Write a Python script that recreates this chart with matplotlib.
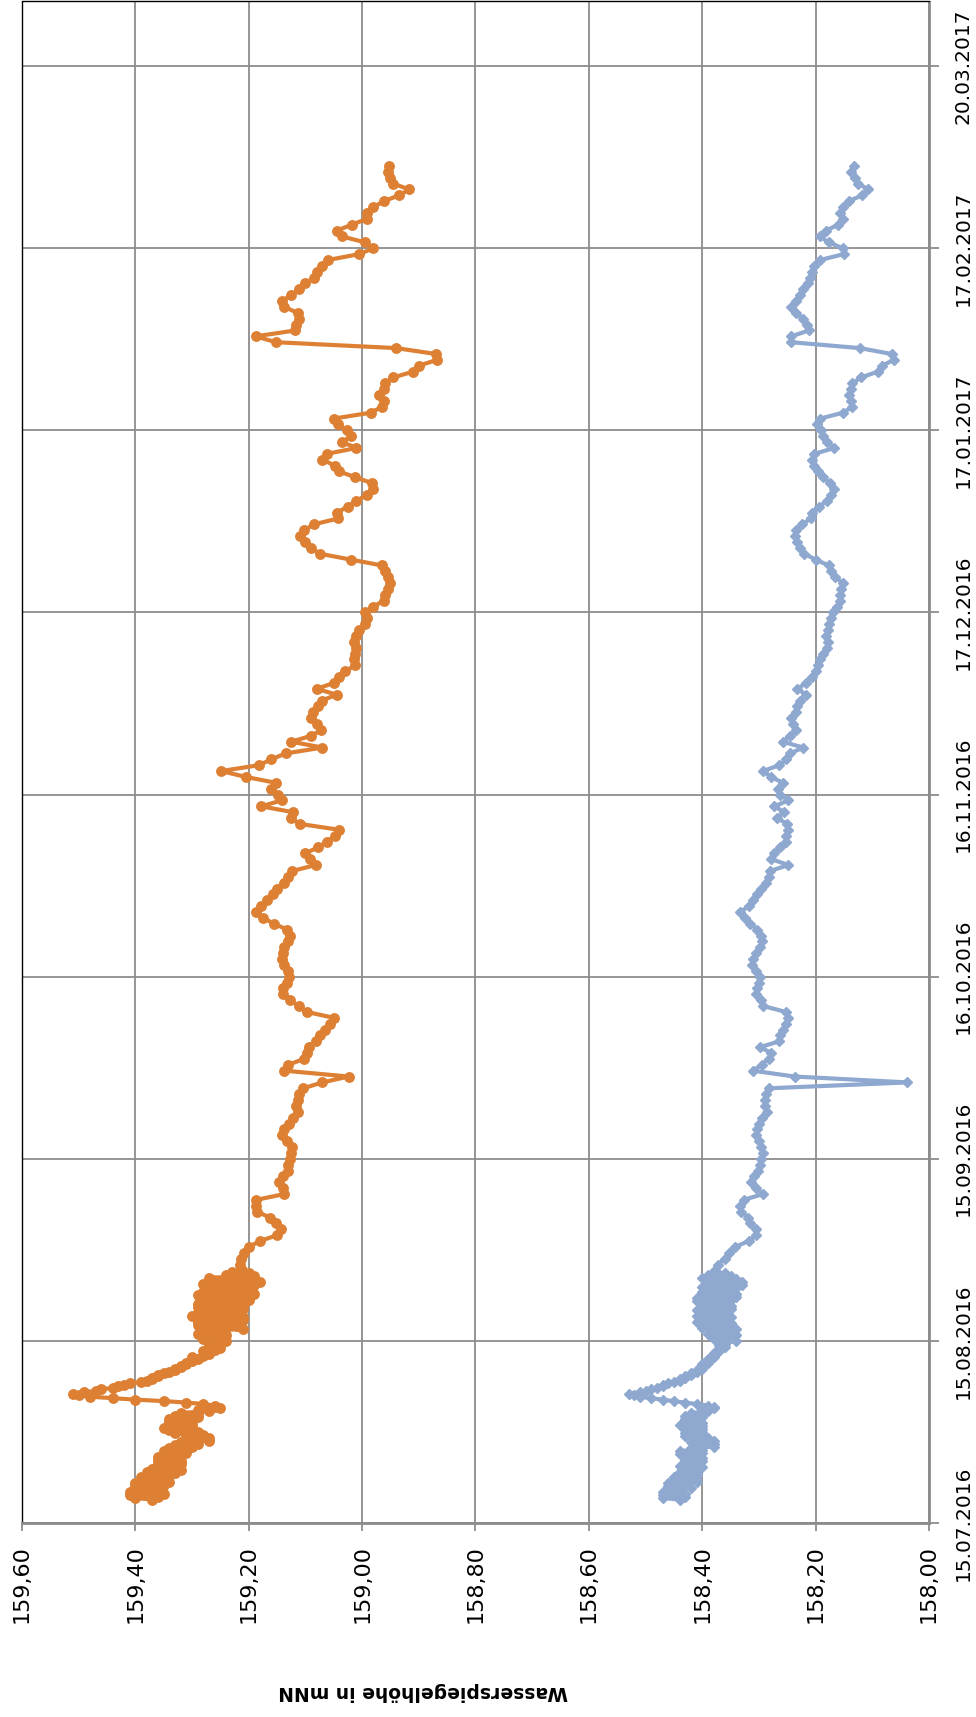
import numpy as np
import pandas as pd
import matplotlib
matplotlib.use("Agg")
import matplotlib.pyplot as plt

# ---------------------------------------------------------------------------
# Data: water level (m above sea level, mNN) at two gauges
# ---------------------------------------------------------------------------
dense_start = "2016-07-19"      # 6-hourly readings
daily_start = "2016-08-27"      # daily readings afterwards

orange_dense = [
    159.37, 159.40, 159.36, 159.41,  159.35, 159.41, 159.36, 159.40,
    159.36, 159.40, 159.35, 159.40,  159.34, 159.39, 159.35, 159.39,
    159.34, 159.38, 159.33, 159.38,  159.32, 159.37, 159.33, 159.36,
    159.32, 159.36, 159.32, 159.36,  159.33, 159.36, 159.32, 159.35,
    159.31, 159.35, 159.31, 159.34,  159.30, 159.33, 159.29, 159.32,
    159.27, 159.30, 159.27, 159.31,  159.28, 159.33, 159.29, 159.34,
    159.30, 159.35, 159.30, 159.34,  159.30, 159.34, 159.30, 159.34,
    159.29, 159.33, 159.29, 159.32,  159.27, 159.29, 159.25, 159.26,
    159.26, 159.28, 159.31, 159.35,  159.40, 159.44, 159.48, 159.50,
    159.51, 159.49, 159.47, 159.46,  159.44, 159.43, 159.42, 159.41,
    159.39, 159.38, 159.37, 159.37,  159.36, 159.36, 159.35, 159.34,
    159.33, 159.33, 159.32, 159.32,  159.31, 159.31, 159.30, 159.30,
    159.29, 159.30, 159.28, 159.27,  159.27, 159.28, 159.26, 159.25,
    159.26, 159.27, 159.25, 159.26,  159.24, 159.28, 159.25, 159.27,
    159.24, 159.29, 159.25, 159.28,  159.21, 159.28, 159.22, 159.29,
    159.22, 159.29, 159.21, 159.28,  159.21, 159.30, 159.22, 159.29,
    159.22, 159.28, 159.21, 159.29,  159.21, 159.29, 159.22, 159.28,
    159.20, 159.28, 159.21, 159.29,  159.19, 159.28, 159.20, 159.27,
    159.20, 159.27, 159.19, 159.28,  159.18, 159.26, 159.19, 159.27,
    159.19, 159.24, 159.20, 159.23,
]

blue_dense = [
    158.44, 158.47, 158.43, 158.47,  158.43, 158.47, 158.44, 158.46,
    158.42, 158.46, 158.43, 158.46,  158.41, 158.45, 158.42, 158.45,
    158.41, 158.44, 158.41, 158.44,  158.41, 158.43, 158.40, 158.44,
    158.41, 158.43, 158.40, 158.43,  158.40, 158.43, 158.41, 158.44,
    158.40, 158.44, 158.40, 158.42,  158.38, 158.41, 158.38, 158.42,
    158.38, 158.42, 158.39, 158.43,  158.40, 158.43, 158.40, 158.43,
    158.40, 158.43, 158.40, 158.44,  158.40, 158.43, 158.41, 158.43,
    158.40, 158.43, 158.40, 158.42,  158.39, 158.40, 158.38, 158.38,
    158.39, 158.41, 158.43, 158.45,  158.47, 158.49, 158.51, 158.52,
    158.53, 158.51, 158.50, 158.49,  158.48, 158.47, 158.47, 158.46,
    158.45, 158.44, 158.44, 158.43,  158.43, 158.42, 158.42, 158.41,
    158.41, 158.40, 158.40, 158.40,  158.40, 158.39, 158.39, 158.39,
    158.39, 158.38, 158.38, 158.38,  158.38, 158.37, 158.37, 158.37,
    158.36, 158.37, 158.36, 158.37,  158.34, 158.38, 158.35, 158.37,
    158.34, 158.39, 158.35, 158.38,  158.34, 158.40, 158.35, 158.39,
    158.35, 158.41, 158.36, 158.40,  158.35, 158.41, 158.36, 158.40,
    158.36, 158.41, 158.35, 158.40,  158.35, 158.40, 158.36, 158.41,
    158.35, 158.41, 158.34, 158.40,  158.34, 158.40, 158.35, 158.39,
    158.34, 158.40, 158.33, 158.39,  158.33, 158.39, 158.34, 158.40,
    158.35, 158.39, 158.36, 158.38,
]

orange_daily = [
    159.212, 159.215, 159.213, 159.208, 159.200, 159.180, 159.150, 159.143, 159.152, 159.163,
    159.185, 159.188, 159.187, 159.137, 159.140, 159.147, 159.140, 159.131, 159.130, 159.127,
    159.125, 159.123, 159.133, 159.141, 159.137, 159.129, 159.122, 159.113, 159.116, 159.114,
    159.112, 159.104, 159.070, 159.024, 159.137, 159.130, 159.103, 159.097, 159.094, 159.082,
    159.075, 159.065, 159.056, 159.050, 159.098, 159.111, 159.128, 159.140, 159.140, 159.133,
    159.129, 159.130, 159.137, 159.141, 159.140, 159.137, 159.130, 159.128, 159.132, 159.155,
    159.175, 159.188, 159.178, 159.168, 159.157, 159.150, 159.138, 159.130, 159.123, 159.082,
    159.092, 159.100, 159.078, 159.062, 159.047, 159.040, 159.110, 159.126, 159.122, 159.178,
    159.142, 159.148, 159.160, 159.152, 159.205, 159.249, 159.182, 159.160, 159.135, 159.070,
    159.125, 159.090, 159.072, 159.080, 159.090, 159.086, 159.078, 159.071, 159.045, 159.080,
    159.050, 159.040, 159.030, 159.012, 159.015, 159.012, 159.010, 159.015, 159.010, 159.006,
    158.995, 158.992, 158.995, 158.980, 158.962, 158.960, 158.955, 158.950, 158.955, 158.960,
    158.965, 159.020, 159.075, 159.090, 159.100, 159.110, 159.102, 159.085, 159.042, 159.045,
    159.025, 159.010, 158.992, 158.980, 158.982, 159.012, 159.040, 159.048, 159.070, 159.062,
    159.010, 159.035, 159.020, 159.027, 159.042, 159.050, 158.985, 158.965, 158.962, 158.970,
    158.962, 158.960, 158.945, 158.910, 158.900, 158.868, 158.870, 158.940, 159.152, 159.188,
    159.118, 159.117, 159.112, 159.114, 159.137, 159.142, 159.125, 159.112, 159.100, 159.085,
    159.080, 159.070, 159.060, 159.005, 158.980, 158.995, 159.035, 159.045, 159.018, 158.992,
    158.991, 158.980, 158.962, 158.935, 158.917, 158.945, 158.950, 158.955, 158.953,
]

blue_daily = [
    158.378, 158.372, 158.360, 158.353, 158.342, 158.318, 158.305, 158.306, 158.316, 158.320,
    158.331, 158.333, 158.327, 158.293, 158.305, 158.314, 158.308, 158.302, 158.299, 158.296,
    158.293, 158.296, 158.300, 158.305, 158.304, 158.300, 158.294, 158.285, 158.290, 158.289,
    158.287, 158.282, 158.038, 158.237, 158.311, 158.295, 158.283, 158.278, 158.298, 158.264,
    158.263, 158.258, 158.253, 158.248, 158.253, 158.292, 158.297, 158.305, 158.304, 158.300,
    158.298, 158.305, 158.313, 158.310, 158.306, 158.298, 158.294, 158.297, 158.303, 158.315,
    158.325, 158.333, 158.318, 158.310, 158.304, 158.296, 158.288, 158.283, 158.280, 158.248,
    158.278, 158.274, 158.262, 158.253, 158.252, 158.248, 158.250, 158.268, 158.255, 158.273,
    158.248, 158.262, 158.266, 158.258, 158.278, 158.293, 158.264, 158.252, 158.245, 158.222,
    158.258, 158.245, 158.234, 158.240, 158.243, 158.234, 158.233, 158.228, 158.217, 158.232,
    158.217, 158.207, 158.200, 158.196, 158.192, 158.187, 158.180, 158.179, 158.182, 158.178,
    158.176, 158.172, 158.169, 158.162, 158.157, 158.157, 158.155, 158.152, 158.165, 158.172,
    158.177, 158.200, 158.220, 158.228, 158.232, 158.237, 158.234, 158.224, 158.208, 158.207,
    158.194, 158.180, 158.172, 158.167, 158.175, 158.187, 158.195, 158.202, 158.207, 158.202,
    158.167, 158.180, 158.187, 158.190, 158.197, 158.192, 158.152, 158.135, 158.138, 158.142,
    158.138, 158.135, 158.120, 158.090, 158.083, 158.062, 158.066, 158.122, 158.243, 158.243,
    158.212, 158.216, 158.222, 158.235, 158.243, 158.235, 158.228, 158.222, 158.214, 158.210,
    158.207, 158.202, 158.192, 158.150, 158.152, 158.177, 158.192, 158.182, 158.160, 158.152,
    158.157, 158.152, 158.142, 158.118, 158.107, 158.125, 158.130, 158.137, 158.132,
]

date_ticks = ["15.07.2016", "15.08.2016", "15.09.2016", "16.10.2016", "16.11.2016",
              "17.12.2016", "17.01.2017", "17.02.2017", "20.03.2017"]
level_ticks = [159.60, 159.40, 159.20, 159.00, 158.80, 158.60, 158.40, 158.20, 158.00]
axis_title = "Wasserspiegelhöhe in mNN"

# ---------------------------------------------------------------------------
t_dense = pd.date_range(dense_start, periods=len(orange_dense), freq="6h")
t_daily = pd.date_range(daily_start, periods=len(orange_daily), freq="D")
times = t_dense.append(t_daily)
orange = np.r_[orange_dense, orange_daily]
blue = np.r_[blue_dense, blue_daily]

W, H = 976, 1717
fig = plt.figure(figsize=(W / 100, H / 100), dpi=100)
fig.patch.set_facecolor("white")

# chart is laid out turned by 90 degrees: levels run horizontally, time vertically
ax = fig.add_axes([22 / W, (H - 1523) / H, (929 - 22) / W, (1523 - 1.5) / H])

font = "DejaVu Sans"
grid_col = "#8c8c8c"

ax.plot(orange, times, color="#DD8034", lw=3.0, marker="o", ms=6.8,
        solid_joinstyle="round", zorder=3)
ax.plot(blue, times, color="#8EA8D0", lw=3.0, marker="D", ms=5.4,
        solid_joinstyle="round", zorder=3)

t0 = pd.Timestamp("2016-07-15")
ax.set_ylim(t0, t0 + pd.Timedelta(days=259))
ax.set_xlim(159.60, 158.00)

tick_dates = pd.to_datetime(date_ticks, format="%d.%m.%Y")
ax.set_yticks(tick_dates)
ax.set_yticklabels(date_ticks)
ax.set_xticks(level_ticks)
ax.set_xticklabels([f"{v:.2f}".replace(".", ",") for v in level_ticks])

ax.yaxis.tick_right()
ax.grid(True, color=grid_col, lw=1.3, zorder=1)
ax.set_axisbelow(True)

ax.tick_params(axis="x", direction="out", length=6, width=1.3, color=grid_col,
               pad=10, labelrotation=90, labelsize=16, labelcolor="black")
ax.tick_params(axis="y", direction="out", length=7, width=1.3, color=grid_col,
               pad=11, labelrotation=90, labelsize=14.5, labelcolor="black")
for lab in ax.get_xticklabels() + ax.get_yticklabels():
    lab.set_family(font)
for lab in ax.get_yticklabels():
    lab.set_verticalalignment("center")

for side in ("left", "top"):
    ax.spines[side].set_color("black")
    ax.spines[side].set_linewidth(1.0)
for side in ("right", "bottom"):
    ax.spines[side].set_color(grid_col)
    ax.spines[side].set_linewidth(2.0)

fig.text(423 / W, (H - 1691) / H, axis_title, rotation=180, ha="center",
         va="center", fontsize=13.5, fontweight="bold", family=font)

fig.savefig("out.png", dpi=100, facecolor="white")
